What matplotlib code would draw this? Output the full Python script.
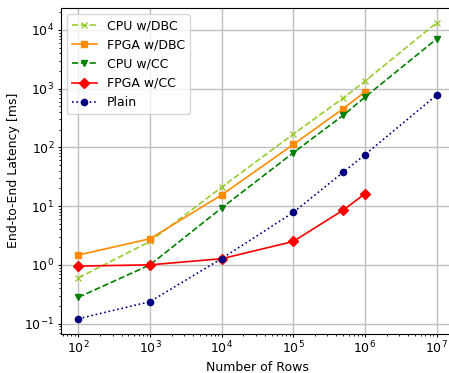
import matplotlib
matplotlib.use('Agg')
import matplotlib.pyplot as plt

# Данные
rows_full = [1e2, 1e3, 1e4, 1e5, 5e5, 1e6, 1e7]
rows_fpga = [1e2, 1e3, 1e4, 1e5, 5e5, 1e6]

cpu_dbc = [0.6, 2.5, 21, 168, 695, 1340, 13200]
fpga_dbc = [1.47, 2.78, 15.5, 112, 458, 880]
cpu_cc = [0.28, 1.0, 9.3, 81, 353, 716, 7000]
fpga_cc = [0.95, 1.0, 1.27, 2.5, 8.6, 16.2]
plain = [0.121, 0.236, 1.28, 7.8, 38, 75, 775]

plt.rcParams['font.size'] = 9

fig = plt.figure(figsize=(4.49, 3.73), dpi=100)
# правая граница осей уходит за край картинки, как в оригинале
ax = fig.add_axes([60.5 / 449, 39.5 / 373, 394 / 449, 325.5 / 373])

lw = 1.2
ax.plot(rows_full, cpu_dbc, 'x--', color='yellowgreen', lw=lw, markersize=5, label='CPU w/DBC')
ax.plot(rows_fpga, fpga_dbc, 's-', color='darkorange', lw=lw, markersize=5, label='FPGA w/DBC')
ax.plot(rows_full, cpu_cc, 'v--', color='green', lw=lw, markersize=5, label='CPU w/CC')
ax.plot(rows_fpga, fpga_cc, 'D-', color='red', lw=lw, markersize=5, label='FPGA w/CC')
ax.plot(rows_full, plain, 'o:', color='navy', lw=lw, markersize=4.5, label='Plain')

ax.set_xscale('log')
ax.set_yscale('log')
ax.set_xlabel('Number of Rows', labelpad=3)
ax.set_ylabel('End-to-End Latency [ms]', labelpad=3)
ax.tick_params(which='major', length=2.5, pad=2)
ax.tick_params(which='minor', length=1.5)
ax.grid(True, which='major', color='#c0c0c0', linewidth=1)
ax.legend(loc='upper left')

plt.savefig('out.png')
